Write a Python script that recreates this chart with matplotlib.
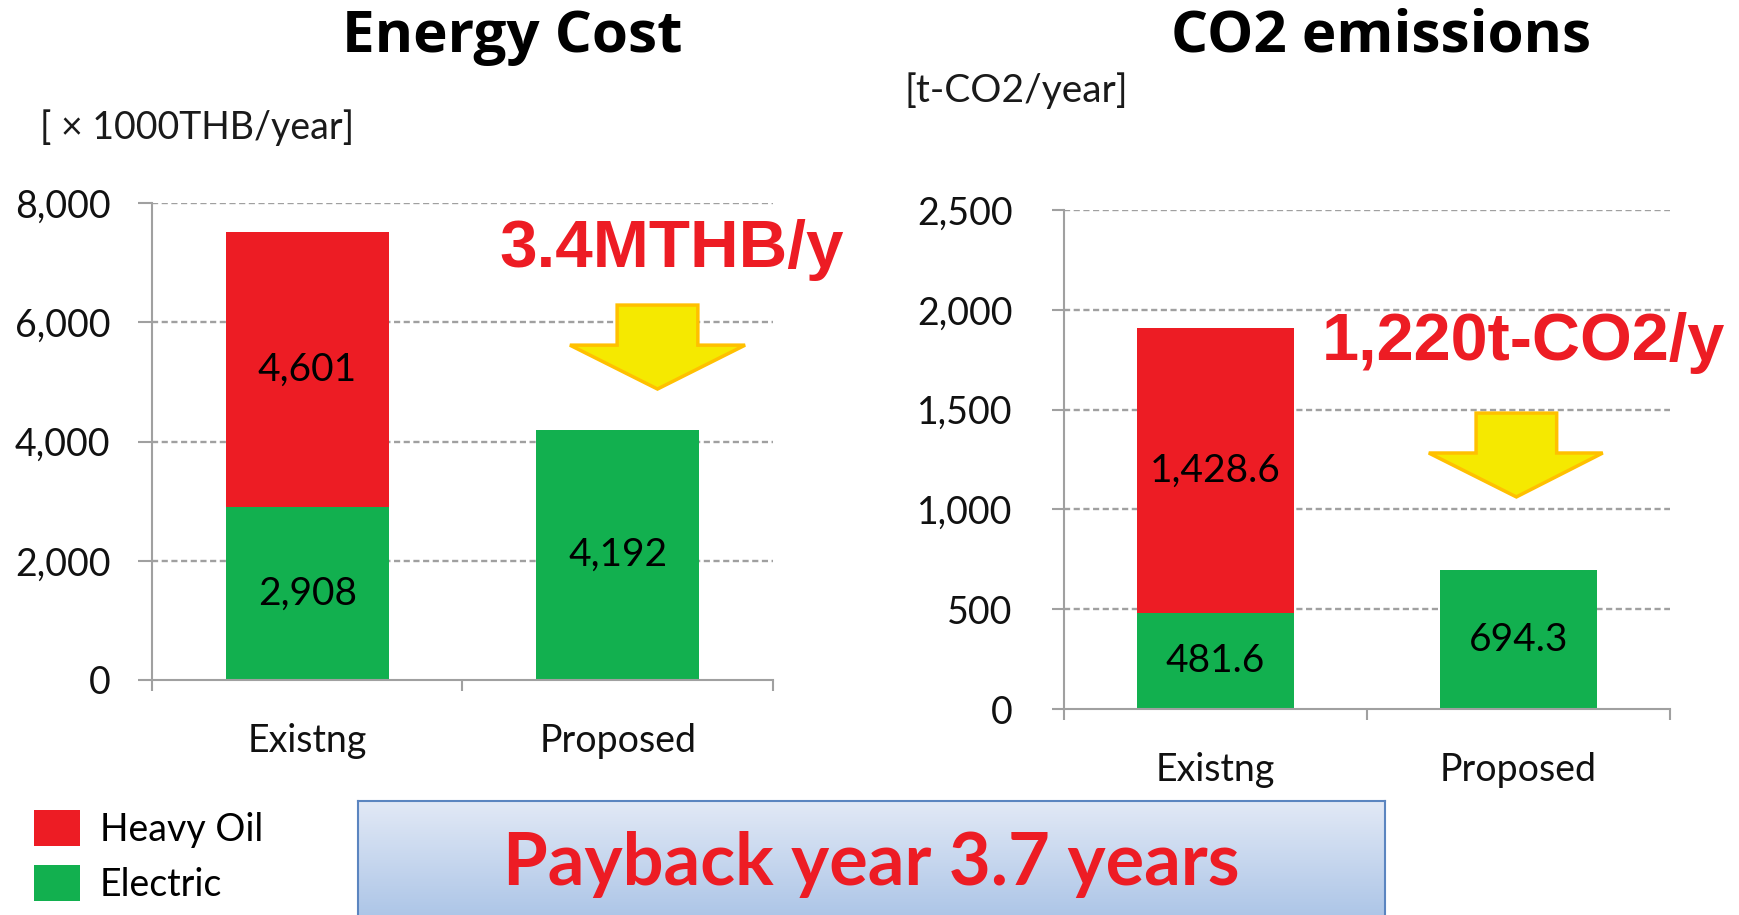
import numpy as np
import matplotlib
matplotlib.use("Agg")
import matplotlib.pyplot as plt
from matplotlib.patches import Polygon, Patch
from matplotlib import font_manager as fm
from matplotlib.colors import LinearSegmentedColormap

plt.rcParams['font.family'] = ['Lato', 'DejaVu Sans']

# ---------------- data ----------------
categories = ["Existng", "Proposed"]
cost_electric = [2908, 4192]
cost_heavy_oil = [4601, 0]
cost_ticks = [0, 2000, 4000, 6000, 8000]
cost_tick_labels = ["0", "2,000", "4,000", "6,000", "8,000"]
cost_electric_labels = ["2,908", "4,192"]
cost_oil_labels = ["4,601", ""]

co2_electric = [481.6, 694.3]
co2_heavy_oil = [1428.6, 0]
co2_ticks = [0, 500, 1000, 1500, 2000, 2500]
co2_tick_labels = ["0", "500", "1,000", "1,500", "2,000", "2,500"]
co2_electric_labels = ["481.6", "694.3"]
co2_oil_labels = ["1,428.6", ""]

RED = "#ED1C24"
GREEN = "#12B04F"
GRID = "#A0A0A0"
AXC = "#A0A0A0"

# pick a bold font for the titles
title_family = "DejaVu Sans"
title_size = 37
for fam, size in [("Noto Sans", 42), ("Open Sans", 42), ("Lato", 45)]:
    try:
        path = fm.findfont(fm.FontProperties(family=fam, weight="bold"),
                           fallback_to_default=False)
        if "bold" in path.lower():
            title_family, title_size = fam, size
            break
    except Exception:
        pass

W, H = 1740, 915
fig = plt.figure(figsize=(W / 100, H / 100), dpi=100)


def px_axes(x0, y0, x1, y1):
    return fig.add_axes([x0 / W, 1 - y1 / H, (x1 - x0) / W, (y1 - y0) / H])


def style_axes(ax, ticks, labels, ymax, ylen, ypad, xpad):
    ax.set_xlim(-0.5, 1.5)
    ax.set_ylim(0, ymax)
    for s in ["top", "right"]:
        ax.spines[s].set_visible(False)
    for s in ["left", "bottom"]:
        ax.spines[s].set_color(AXC)
        ax.spines[s].set_linewidth(1.5)
    ax.set_yticks(ticks)
    ax.set_yticklabels(labels)
    ax.tick_params(axis="y", length=ylen, width=1.5, color=AXC, pad=ypad,
                   labelsize=27, labelcolor="#111111")
    ax.set_xticks([0, 1])
    ax.set_xticklabels(categories)
    ax.tick_params(axis="x", which="major", length=0, pad=xpad,
                   labelsize=27, labelcolor="#111111")
    ax.set_xticks([-0.5, 0.5, 1.5], minor=True)
    ax.tick_params(axis="x", which="minor", length=8, width=1.5, color=AXC)
    for t in ticks[1:]:
        ax.axhline(t, color=GRID, lw=1.7, ls=(0, (2.6, 1.5)), zorder=0.5)
    ax.set_axisbelow(True)


def draw_arrow(ax, xs0, xs1, xh0, xh1, yt, ysh, ytip):
    xt = (xs0 + xs1) / 2
    verts = [(xs0, yt), (xs1, yt), (xs1, ysh), (xh1, ysh), (xt, ytip),
             (xh0, ysh), (xs0, ysh)]
    ax.add_patch(Polygon(verts, closed=True, transform=ax.transAxes,
                         facecolor="#F5E900", edgecolor="#FFC000", lw=2.5,
                         zorder=5, clip_on=False))


x = np.arange(len(categories))

# ---------------- Energy cost ----------------
ax1 = px_axes(152, 203, 773, 680)
style_axes(ax1, cost_ticks, cost_tick_labels, 8000, 10, 20, 31)
b1 = ax1.bar(x, cost_electric, width=0.525, color=GREEN, zorder=2)
b2 = ax1.bar(x, cost_heavy_oil, width=0.525, bottom=cost_electric, color=RED, zorder=2)
ax1.bar_label(b1, labels=cost_electric_labels, label_type="center", fontsize=28, color="#000000")
ax1.bar_label(b2, labels=cost_oil_labels, label_type="center", fontsize=28, color="#000000")
draw_arrow(ax1, 0.749, 0.879, 0.673, 0.955, 0.786, 0.702, 0.610)

# ---------------- CO2 ----------------
ax2 = px_axes(1064, 210, 1670, 709)
style_axes(ax2, co2_ticks, co2_tick_labels, 2500, 9, 28, 31)
c1 = ax2.bar(x, co2_electric, width=0.52, color=GREEN, zorder=2)
c2 = ax2.bar(x, co2_heavy_oil, width=0.52, bottom=co2_electric, color=RED, zorder=2)
ax2.bar_label(c1, labels=co2_electric_labels, label_type="center", fontsize=28, color="#000000")
ax2.bar_label(c2, labels=co2_oil_labels, label_type="center", fontsize=28, color="#000000")
draw_arrow(ax2, 0.680, 0.813, 0.602, 0.889, 0.593, 0.513, 0.425)

# ---------------- titles / texts ----------------
fig.text(512 / W, 1 - 52 / H, "Energy Cost", ha="center", va="baseline",
         fontsize=title_size, fontweight="bold", family=[title_family, "DejaVu Sans"])
fig.text(1381 / W, 1 - 52 / H, "CO2 emissions", ha="center", va="baseline",
         fontsize=title_size, fontweight="bold", family=[title_family, "DejaVu Sans"])
fig.text(40 / W, 1 - 128 / H, "[ × 1000THB/year]", ha="left", va="center",
         fontsize=27, color="#1a1a1a")
fig.text(905 / W, 1 - 91 / H, "[t-CO2/year]", ha="left", va="center",
         fontsize=28, color="#1a1a1a")
fig.text(499 / W, 1 - 267 / H, "3.4MTHB/y", ha="left", va="baseline",
         fontsize=48.5, fontweight="bold", color=RED,
         family=["Liberation Sans", "DejaVu Sans"])
fig.text(1322 / W, 1 - 360 / H, "1,220t-CO2/y", ha="left", va="baseline",
         fontsize=48, fontweight="bold", color=RED,
         family=["Liberation Sans", "DejaVu Sans"])

# ---------------- legend ----------------
fig.legend(handles=[Patch(facecolor=RED, label="Heavy Oil"),
                    Patch(facecolor=GREEN, label="Electric")],
           loc="upper left", bbox_to_anchor=(34 / W, 1 - 810 / H),
           frameon=False, fontsize=27, handlelength=1.23, handleheight=1.1,
           handletextpad=0.53, labelspacing=0.47, borderpad=0, borderaxespad=0)

# ---------------- payback box ----------------
axb = px_axes(358, 801, 1385, 925)
grad = np.linspace(0, 1, 256).reshape(-1, 1)
cmap = LinearSegmentedColormap.from_list("bx", ["#E2E9F6", "#A9C3E6"])
axb.imshow(grad, aspect="auto", cmap=cmap, extent=[0, 1, 0, 1], origin="upper")
axb.set_xlim(0, 1)
axb.set_ylim(0, 1)
axb.set_xticks([])
axb.set_yticks([])
for s in axb.spines.values():
    s.set_color("#5B85C0")
    s.set_linewidth(1.5)
fig.text(871 / W, 1 - 885 / H, "Payback year 3.7 years", ha="center", va="baseline",
         fontsize=52, fontweight="bold", color=RED)

fig.savefig("out.png", dpi=100)
